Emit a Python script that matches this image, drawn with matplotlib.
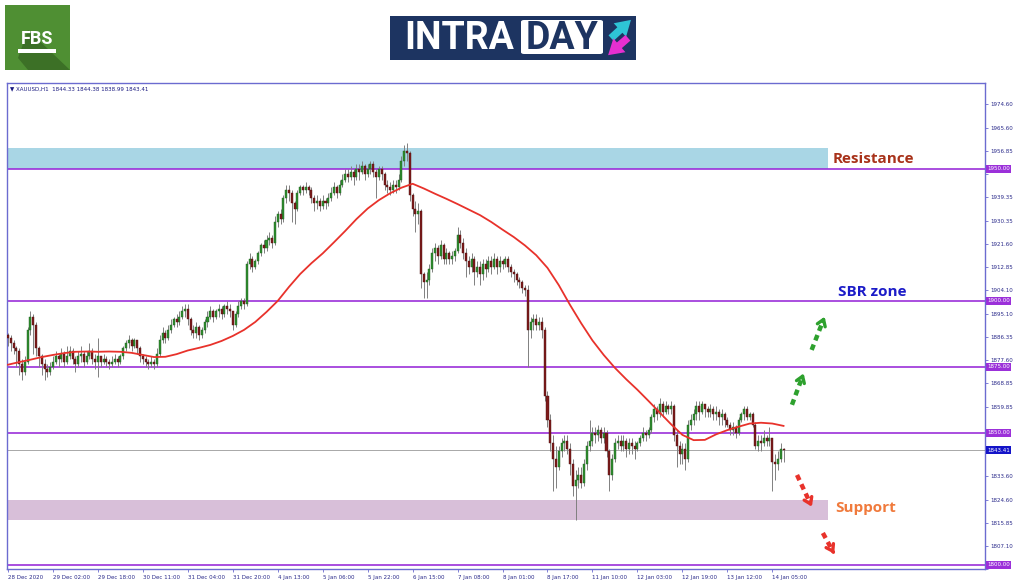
import matplotlib
matplotlib.use("Agg")
import matplotlib.pyplot as plt
import numpy as np
from matplotlib.patches import Rectangle, Polygon, FancyArrowPatch, FancyBboxPatch

# XAUUSD H1 candles (close / high / low), open = previous close
first_open = 1887.0
closes = [
    1886, 1884, 1882, 1881, 1876, 1873, 1877, 1889, 1894, 1891, 1882, 1879, 1876, 1874, 1873, 1875,
    1877, 1879, 1878, 1880, 1877, 1879, 1881, 1878, 1876, 1879, 1880, 1877, 1879, 1881, 1878, 1877,
    1879, 1877, 1878, 1877, 1876, 1877, 1878, 1877, 1879, 1882, 1884, 1885, 1883, 1885, 1882, 1879,
    1878, 1877, 1876, 1877, 1876, 1880, 1885, 1888, 1886, 1889, 1891, 1893, 1892, 1894, 1896, 1897,
    1893, 1889, 1888, 1890, 1887, 1889, 1892, 1894, 1896, 1894, 1896, 1897, 1895, 1898, 1897, 1896,
    1891, 1895, 1898, 1900, 1899, 1914, 1916, 1913, 1915, 1918, 1921, 1920, 1923, 1924, 1922, 1930,
    1933, 1931, 1939, 1942, 1941, 1937, 1935, 1941, 1943, 1942, 1943, 1942, 1939, 1937, 1938, 1936,
    1938, 1937, 1939, 1941, 1943, 1941, 1944, 1946, 1948, 1947, 1949, 1947, 1950, 1949, 1951, 1948,
    1950, 1952, 1949, 1947, 1950, 1948, 1944, 1943, 1942, 1944, 1943, 1946, 1953, 1957, 1956, 1940,
    1935, 1933, 1934, 1910, 1907, 1908, 1912, 1918, 1920, 1917, 1921, 1916, 1918, 1916, 1917, 1919,
    1925, 1922, 1918, 1915, 1913, 1916, 1911, 1913, 1910, 1914, 1912, 1915, 1913, 1916, 1913, 1915,
    1914, 1916, 1913, 1911, 1910, 1908, 1907, 1905, 1904, 1889, 1892, 1893, 1891, 1892, 1889, 1864,
    1855, 1846, 1840, 1837, 1843, 1846, 1847, 1844, 1838, 1830, 1832, 1834, 1831, 1838, 1845, 1847,
    1850, 1849, 1851, 1848, 1850, 1843, 1834, 1840, 1846, 1847, 1845, 1847, 1844, 1846, 1845, 1844,
    1846, 1848, 1850, 1849, 1851, 1856, 1859, 1857, 1861, 1858, 1860, 1859, 1860, 1849, 1845, 1842,
    1844, 1840, 1853, 1855, 1857, 1860, 1858, 1861, 1859, 1858, 1859, 1857, 1858, 1856, 1857, 1855,
    1853, 1851, 1852, 1850, 1855, 1857, 1859, 1856, 1857, 1853, 1845, 1847, 1846, 1848, 1847, 1848,
    1839, 1838, 1840, 1844, 1843.41,
]
highs = [
    1888, 1887, 1885, 1883, 1882, 1878, 1879, 1890, 1896, 1895, 1892, 1883, 1880, 1878, 1876, 1877,
    1879, 1881, 1880, 1882, 1881, 1883, 1883, 1882, 1879, 1881, 1883, 1881, 1881, 1884, 1882, 1880,
    1886, 1879, 1880, 1879, 1878, 1879, 1880, 1879, 1880, 1883, 1885, 1887, 1886, 1886, 1885, 1883,
    1880, 1879, 1878, 1879, 1878, 1882, 1887, 1890, 1889, 1891, 1893, 1894, 1895, 1896, 1898, 1899,
    1899, 1894, 1891, 1892, 1891, 1890, 1893, 1896, 1898, 1897, 1897, 1899, 1898, 1899, 1900, 1899,
    1896, 1896, 1900, 1901, 1901, 1915, 1918, 1917, 1916, 1919, 1922, 1923, 1925, 1926, 1925, 1932,
    1934, 1935, 1940, 1944, 1944, 1942, 1938, 1942, 1944, 1944, 1945, 1944, 1943, 1940, 1940, 1939,
    1940, 1939, 1941, 1943, 1945, 1944, 1946, 1948, 1950, 1950, 1951, 1950, 1952, 1952, 1953, 1952,
    1952, 1953, 1953, 1950, 1951, 1951, 1949, 1946, 1945, 1946, 1946, 1948, 1955, 1959, 1960, 1957,
    1941, 1938, 1937, 1935, 1911, 1911, 1914, 1920, 1922, 1921, 1923, 1922, 1920, 1919, 1919, 1920,
    1928, 1927, 1924, 1920, 1917, 1918, 1917, 1915, 1915, 1916, 1916, 1917, 1917, 1918, 1917, 1917,
    1916, 1917, 1917, 1914, 1912, 1911, 1909, 1908, 1906, 1906, 1894, 1895, 1895, 1894, 1894, 1890,
    1866, 1857, 1849, 1845, 1845, 1848, 1849, 1849, 1846, 1840, 1836, 1837, 1837, 1840, 1847, 1855,
    1852, 1852, 1853, 1852, 1852, 1851, 1844, 1842, 1848, 1849, 1849, 1849, 1848, 1848, 1848, 1847,
    1847, 1849, 1852, 1851, 1852, 1857, 1861, 1860, 1863, 1862, 1862, 1861, 1862, 1861, 1851, 1847,
    1846, 1846, 1855, 1857, 1859, 1862, 1862, 1862, 1861, 1860, 1861, 1860, 1860, 1859, 1859, 1858,
    1856, 1854, 1854, 1853, 1856, 1858, 1860, 1860, 1858, 1858, 1854, 1849, 1849, 1851, 1849, 1852,
    1848, 1842, 1843, 1846, 1844.38,
]
lows = [
    1883, 1881, 1880, 1875, 1872, 1870, 1872, 1876, 1887, 1880, 1879, 1875, 1872, 1870, 1871, 1872,
    1874, 1876, 1875, 1877, 1875, 1876, 1878, 1876, 1873, 1875, 1877, 1875, 1876, 1878, 1876, 1874,
    1871, 1875, 1876, 1875, 1874, 1875, 1876, 1875, 1876, 1878, 1881, 1882, 1881, 1882, 1880, 1877,
    1876, 1875, 1874, 1875, 1874, 1875, 1879, 1884, 1884, 1885, 1888, 1890, 1890, 1891, 1893, 1894,
    1891, 1887, 1886, 1886, 1885, 1886, 1888, 1890, 1893, 1892, 1893, 1894, 1893, 1894, 1895, 1894,
    1889, 1890, 1894, 1897, 1897, 1898, 1912, 1911, 1912, 1914, 1917, 1918, 1919, 1921, 1920, 1921,
    1928, 1929, 1930, 1937, 1938, 1930, 1929, 1934, 1940, 1940, 1941, 1940, 1937, 1934, 1935, 1934,
    1935, 1935, 1936, 1938, 1940, 1939, 1940, 1943, 1945, 1945, 1946, 1944, 1946, 1946, 1948, 1946,
    1947, 1948, 1947, 1939, 1946, 1946, 1942, 1941, 1940, 1941, 1941, 1942, 1945, 1951, 1953, 1938,
    1932, 1926, 1929, 1905, 1901, 1901, 1906, 1911, 1915, 1914, 1916, 1914, 1914, 1914, 1914, 1915,
    1918, 1920, 1916, 1909, 1910, 1911, 1906, 1909, 1906, 1908, 1909, 1911, 1910, 1912, 1910, 1911,
    1912, 1913, 1911, 1909, 1907, 1906, 1905, 1903, 1902, 1875, 1886, 1889, 1889, 1889, 1886, 1862,
    1852, 1843, 1828, 1829, 1836, 1841, 1843, 1842, 1834, 1826, 1817, 1829, 1829, 1830, 1836, 1843,
    1845, 1846, 1847, 1846, 1846, 1841, 1828, 1832, 1839, 1844, 1843, 1843, 1841, 1842, 1842, 1840,
    1843, 1845, 1847, 1847, 1848, 1850, 1854, 1855, 1856, 1856, 1857, 1857, 1857, 1847, 1837, 1838,
    1838, 1836, 1839, 1851, 1853, 1855, 1855, 1857, 1856, 1856, 1856, 1855, 1855, 1853, 1853, 1852,
    1852, 1849, 1849, 1848, 1849, 1854, 1855, 1855, 1855, 1852, 1844, 1843, 1843, 1845, 1845, 1845,
    1828, 1832, 1836, 1839, 1838.99,
]

# moving average, read every 4 bars
ma_index = list(range(0, 276, 4)) + [276]
ma_values = [
    1875.8, 1876.8, 1877.7, 1878.7, 1879.5, 1880.2, 1880.7, 1880.8, 1880.7, 1880.8,
    1880.7, 1880.3, 1879.5, 1878.7, 1878.8, 1879.8, 1881.2, 1882.2, 1883.3, 1884.8,
    1886.7, 1889.0, 1892.0, 1895.8, 1900.0, 1905.3, 1910.2, 1914.3, 1918.0, 1922.2,
    1926.5, 1931.0, 1935.0, 1938.2, 1940.8, 1942.9, 1944.4, 1942.6, 1940.6, 1938.7,
    1936.7, 1934.6, 1932.5, 1929.9, 1927.0, 1924.2, 1921.0, 1917.3, 1912.5, 1906.0,
    1898.5, 1891.5, 1885.0, 1879.5, 1874.6, 1870.3, 1866.3, 1862.0, 1857.6, 1853.2,
    1849.2, 1847.2, 1847.3, 1849.4, 1851.0, 1852.3, 1853.5, 1853.8, 1853.5, 1852.6,
]

x_labels = ["28 Dec 2020", "29 Dec 02:00", "29 Dec 18:00", "30 Dec 11:00", "31 Dec 04:00",
            "31 Dec 20:00", "4 Jan 13:00", "5 Jan 06:00", "5 Jan 22:00", "6 Jan 15:00",
            "7 Jan 08:00", "8 Jan 01:00", "8 Jan 17:00", "11 Jan 10:00", "12 Jan 03:00",
            "12 Jan 19:00", "13 Jan 12:00", "14 Jan 05:00"]
y_ticks = [1974.60, 1965.60, 1956.85, 1948.10, 1939.35, 1930.35, 1921.60, 1912.85, 1904.10,
           1895.10, 1886.35, 1877.60, 1868.85, 1859.85, 1851.10, 1842.35, 1833.60, 1824.60,
           1815.85, 1807.10, 1798.35]
hidden_ticks = [1948.10, 1851.10, 1842.35, 1798.35]   # covered by the level boxes
levels = [1950.00, 1900.00, 1875.00, 1850.00, 1800.00]
last_price = 1843.41
resistance_zone = (1950.0, 1958.0)
support_zone = (1817.0, 1824.6)

W, H = 1024, 587
def fx(px):
    return px / W
def fy(py):
    return 1 - py / H

fig = plt.figure(figsize=(10.24, 5.87), dpi=100, facecolor="white")
ax = fig.add_axes([fx(6.5), fy(569), fx(985) - fx(6.5), fy(83) - fy(569)])

n = len(closes)
idx = np.arange(n)
c = np.array(closes, dtype=float)
o = np.concatenate([[first_open], c[:-1]])
hi = np.array(highs, dtype=float)
lo = np.array(lows, dtype=float)
up = c >= o

ax.vlines(idx, lo, hi, color="#808080", lw=0.7, zorder=3)
body = np.where(np.abs(c - o) < 0.4, 0.4, c - o)
ax.bar(idx[up], body[up], bottom=o[up], width=0.72, color="#2f8f2f",
       edgecolor="#1d5a1d", linewidth=0.3, zorder=4)
ax.bar(idx[~up], body[~up], bottom=o[~up], width=0.72, color="#7e1b1b",
       edgecolor="#4a0f0f", linewidth=0.3, zorder=4)

ax.plot(ma_index, ma_values, color="#e8322b", lw=1.3, zorder=5, solid_joinstyle="round")

# zones and levels
zone_end = (828 - 6.5) / (985 - 6.5)
ax.axhspan(*resistance_zone, xmin=0, xmax=zone_end, color="#a9d6e5", zorder=1, lw=0)
ax.axhspan(*support_zone, xmin=0, xmax=zone_end, color="#d8bfd9", zorder=1, lw=0)
for lv in levels:
    ax.axhline(lv, color="#9b30d9", lw=1.2, zorder=2)
    ax.text(1.002, lv, f"{lv:.2f}", transform=ax.get_yaxis_transform(), ha="left",
            va="center", fontsize=4, color="white", zorder=10, clip_on=False,
            bbox=dict(boxstyle="square,pad=0.25", fc="#9b30d9", ec="none"))
ax.axhline(last_price, color="#9a9a9a", lw=0.6, zorder=2)
ax.text(1.002, last_price, f"{last_price:.2f}", transform=ax.get_yaxis_transform(), ha="left",
        va="center", fontsize=4, color="white", zorder=10, clip_on=False,
        bbox=dict(boxstyle="square,pad=0.25", fc="#1414c8", ec="none"))

# zone captions
ax.text(293.5, 1953.8, "Resistance", color="#a8321a", fontsize=11, fontweight="bold",
        family="Open Sans", va="center", ha="left")
ax.text(295.5, 1903.5, "SBR zone", color="#1c1cc8", fontsize=11, fontweight="bold",
        family="Open Sans", va="center", ha="left")
ax.text(294.5, 1821.3, "Support", color="#f07a3c", fontsize=11, fontweight="bold",
        family="Open Sans", va="center", ha="left")

# dashed direction arrows
def dashed_arrow(tail, head, color):
    t = np.array(tail)
    h = np.array(head)
    mid = t + (h - t) * 0.72
    ax.plot([t[0], mid[0]], [t[1], mid[1]], color=color, lw=3.2,
            linestyle=(0, (1.3, 1.0)), solid_capstyle="butt", zorder=6)
    ax.annotate("", xy=head, xytext=tuple(mid),
                arrowprops=dict(arrowstyle="->,head_length=0.45,head_width=0.3",
                                color=color, lw=2.4), zorder=6)

dashed_arrow((279, 1860.6), (283.5, 1873.5), "#2ea12e")
dashed_arrow((286, 1881.4), (291, 1895.0), "#2ea12e")
dashed_arrow((280.8, 1834.0), (286.5, 1821.0), "#e8322b")
dashed_arrow((290, 1812.0), (294.5, 1803.2), "#e8322b")

ax.text(0.004, 0.993, "\u25bc XAUUSD,H1  1844.33 1844.38 1838.99 1843.41",
        transform=ax.transAxes, fontsize=4, color="#1a1a80", va="top", ha="left")

ax.set_xlim(-0.53, 347.7)
ax.set_ylim(1798.9, 1982.6)
ax.set_xticks(np.arange(0, 16 * len(x_labels), 16))
ax.set_xticklabels(x_labels, ha="left")
ax.yaxis.tick_right()
ax.set_yticks(y_ticks)
ax.set_yticklabels(["" if v in hidden_ticks else f"{v:.2f}" for v in y_ticks])
ax.tick_params(axis="both", labelsize=4, colors="#6b6bd0", labelcolor="#2a2a8a",
               length=2.5, width=0.6, pad=1.5)
for s in ax.spines.values():
    s.set_color("#6b6bd0")
    s.set_linewidth(1.0)

# FBS logo
fig.add_artist(Rectangle((fx(5), fy(70)), fx(65), fy(5) - fy(70), transform=fig.transFigure,
                         fc="#4f8f33", ec="none"))
fig.add_artist(Polygon([(fx(28), fy(30)), (fx(70), fy(70)), (fx(28), fy(70)), (fx(18), fy(58))],
                       closed=True, transform=fig.transFigure, fc="#3c7026", ec="none"))
fig.text(fx(37), fy(39), "FBS", color="white", fontsize=13, fontweight="bold",
         family="Roboto", ha="center", va="center")
fig.add_artist(Rectangle((fx(18), fy(53)), fx(38), fy(49) - fy(53), transform=fig.transFigure,
                         fc="white", ec="none"))

# INTRADAY logo
fig.add_artist(Rectangle((fx(390), fy(60)), fx(246), fy(16) - fy(60), transform=fig.transFigure,
                         fc="#1d3461", ec="none"))
fig.add_artist(FancyBboxPatch((fx(521), fy(54)), fx(82), fy(20) - fy(54),
                              boxstyle="round,pad=0,rounding_size=0.003",
                              transform=fig.transFigure, fc="white", ec="none"))
fig.text(fx(459), fy(38.5), "INTRA", color="white", fontsize=27, fontweight="bold",
         family="Roboto", ha="center", va="center")
fig.text(fx(562), fy(38.5), "DAY", color="#1d3461", fontsize=27, fontweight="bold",
         family="Roboto", ha="center", va="center")
fig.add_artist(FancyArrowPatch((fx(609), fy(40)), (fx(633), fy(18)), transform=fig.transFigure,
                               arrowstyle="simple,head_length=0.9,head_width=1.1,tail_width=0.45",
                               mutation_scale=12, fc="#2ec4d6", ec="none"))
fig.add_artist(FancyArrowPatch((fx(630), fy(36)), (fx(606), fy(57)), transform=fig.transFigure,
                               arrowstyle="simple,head_length=0.9,head_width=1.1,tail_width=0.45",
                               mutation_scale=12, fc="#e62fd0", ec="none"))

fig.savefig("out.png", dpi=100, facecolor="white")
